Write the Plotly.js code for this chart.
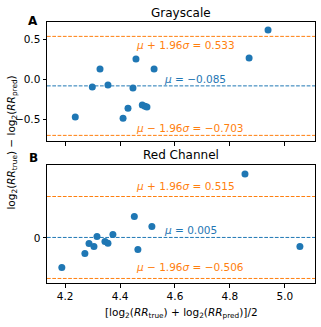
<!DOCTYPE html>
<html><head><meta charset="utf-8">
<script src="https://cdn.plot.ly/plotly-3.0.1.min.js"></script>
<style>html,body{margin:0;padding:0;background:#fff}#chart{width:321px;height:327px}</style>
</head><body><div id="chart"></div>
<script>
// Grayscale (panel A)
const grayX = [4.237, 4.299, 4.327, 4.356, 4.411, 4.429, 4.447, 4.458, 4.481, 4.491, 4.498, 4.524, 4.870, 4.939];
const grayY = [-0.475, -0.100, 0.125, -0.075, -0.490, -0.363, -0.113, 0.250, -0.325, -0.340, -0.350, 0.125, 0.262, 0.612];
const grayMean = -0.085, grayUpper = 0.533, grayLower = -0.703;
// Red channel (panel B)
const redX = [4.188, 4.272, 4.287, 4.305, 4.316, 4.345, 4.356, 4.374, 4.452, 4.465, 4.516, 4.855, 5.055];
const redY = [-0.370, -0.195, -0.070, -0.108, 0.017, -0.045, -0.066, 0.042, 0.267, -0.145, 0.142, 0.796, -0.108];
const redMean = 0.005, redUpper = 0.515, redLower = -0.506;

const xTicks = [4.2, 4.4, 4.6, 4.8, 5.0];
const xTickText = ['4.2', '4.4', '4.6', '4.8', '5.0'];
const grayYTicks = [-0.5, 0.0, 0.5];
const grayYTickText = ['\u22120.5', '0.0', '0.5'];
const redYTicks = [0];
const redYTickText = ['0'];

const BLUE = '#1f77b4', ORANGE = '#ff7f0e';
const FONT = 'DejaVu Sans, sans-serif';

function fmt(v){ return (v < 0 ? '\u2212' : '') + Math.abs(v).toFixed(3); }

const traces = [
  {x: grayX, y: grayY, xaxis: 'x2', yaxis: 'y2', type: 'scatter', mode: 'markers',
   marker: {color: BLUE, size: 7}, hoverinfo: 'none'},
  {x: redX, y: redY, xaxis: 'x', yaxis: 'y', type: 'scatter', mode: 'markers',
   marker: {color: BLUE, size: 7}, hoverinfo: 'none'}
];

function hline(yref, xref, v, color){
  return {type: 'line', xref: xref + ' domain', yref: yref, x0: 0, x1: 1, y0: v, y1: v,
          line: {color: color, width: 1, dash: '3.7px,1.6px'}, layer: 'below'};
}
const shapes = [
  hline('y2', 'x2', grayUpper, ORANGE), hline('y2', 'x2', grayMean, BLUE), hline('y2', 'x2', grayLower, ORANGE),
  hline('y', 'x', redUpper, ORANGE), hline('y', 'x', redMean, BLUE), hline('y', 'x', redLower, ORANGE)
];

function lab(xr, yr, x, y, text, color){
  return {xref: xr, yref: yr, x: x, y: y, text: text, showarrow: false, xanchor: 'left', yanchor: 'middle',
          font: {family: FONT, size: 10.5, color: color}};
}
const MU = '<i>\u03bc</i>', SG = '<i>\u03c3</i>';
const annotations = [
  lab('x2', 'y2', 4.451, 0.425, MU + ' + 1.96' + SG + ' = ' + fmt(grayUpper), ORANGE),
  lab('x2', 'y2', 4.554, -0.005, MU + ' = ' + fmt(grayMean), BLUE),
  lab('x2', 'y2', 4.451, -0.605, MU + ' \u2212 1.96' + SG + ' = ' + fmt(grayLower), ORANGE),
  lab('x', 'y', 4.451, 0.65, MU + ' + 1.96' + SG + ' = ' + fmt(redUpper), ORANGE),
  lab('x', 'y', 4.554, 0.096, MU + ' = ' + fmt(redMean), BLUE),
  lab('x', 'y', 4.451, -0.357, MU + ' \u2212 1.96' + SG + ' = ' + fmt(redLower), ORANGE),
  {xref: 'paper', yref: 'paper', x: 0.5, y: 1.0345, text: 'Grayscale', showarrow: false,
   xanchor: 'center', yanchor: 'middle', font: {family: FONT, size: 12, color: '#000'}},
  {xref: 'paper', yref: 'paper', x: 0.5, y: 0.491, text: 'Red Channel', showarrow: false,
   xanchor: 'center', yanchor: 'middle', font: {family: FONT, size: 12, color: '#000'}},
  {xref: 'paper', yref: 'paper', x: -0.052, y: 1.0023, text: '<b>A</b>', showarrow: false,
   xanchor: 'center', yanchor: 'middle', font: {family: FONT, size: 12, color: '#000'}},
  {xref: 'paper', yref: 'paper', x: -0.052, y: 0.4776, text: '<b>B</b>', showarrow: false,
   xanchor: 'center', yanchor: 'middle', font: {family: FONT, size: 12, color: '#000'}},
  {xref: 'paper', yref: 'paper', x: -0.1317, y: 0.537, textangle: -90, showarrow: false,
   xanchor: 'center', yanchor: 'middle', font: {family: FONT, size: 10.5, color: '#000'},
   text: 'log<sub>2</sub>(<i>RR</i><sub>true</sub>) \u2212 log<sub>2</sub>(<i>RR</i><sub>pred</sub>)'},
  {xref: 'paper', yref: 'paper', x: 0.5, y: -0.115, showarrow: false,
   xanchor: 'center', yanchor: 'middle', font: {family: FONT, size: 10.5, color: '#000'},
   text: '[log<sub>2</sub>(<i>RR</i><sub>true</sub>) + log<sub>2</sub>(<i>RR</i><sub>pred</sub>)]/2'}
];

const axisCommon = {showline: true, mirror: true, linecolor: '#000', linewidth: 1, showgrid: false,
  zeroline: false, ticks: 'outside', ticklen: 3.5, tickwidth: 1, tickcolor: '#000',
  tickfont: {family: FONT, size: 10.5, color: '#000'}};

const layout = {
  width: 321, height: 327, margin: {l: 47, r: 6, t: 22, b: 44}, showlegend: false,
  paper_bgcolor: '#fff', plot_bgcolor: '#fff', font: {family: FONT},
  xaxis: Object.assign({}, axisCommon, {domain: [0, 1], anchor: 'y', range: [4.134, 5.110],
    tickvals: xTicks, ticktext: xTickText}),
  yaxis: Object.assign({}, axisCommon, {domain: [0, 0.4526], anchor: 'x', range: [-0.5625, 0.909],
    tickvals: redYTicks, ticktext: redYTickText}),
  xaxis2: Object.assign({}, axisCommon, {domain: [0, 1], anchor: 'y2', matches: 'x', range: [4.134, 5.110],
    tickvals: xTicks, ticktext: xTickText, showticklabels: false}),
  yaxis2: Object.assign({}, axisCommon, {domain: [0.5435, 1], anchor: 'x2', range: [-0.775, 0.7125],
    tickvals: grayYTicks, ticktext: grayYTickText}),
  shapes: shapes, annotations: annotations
};

Plotly.newPlot('chart', traces, layout, {staticPlot: true, displayModeBar: false});
</script></body></html>
